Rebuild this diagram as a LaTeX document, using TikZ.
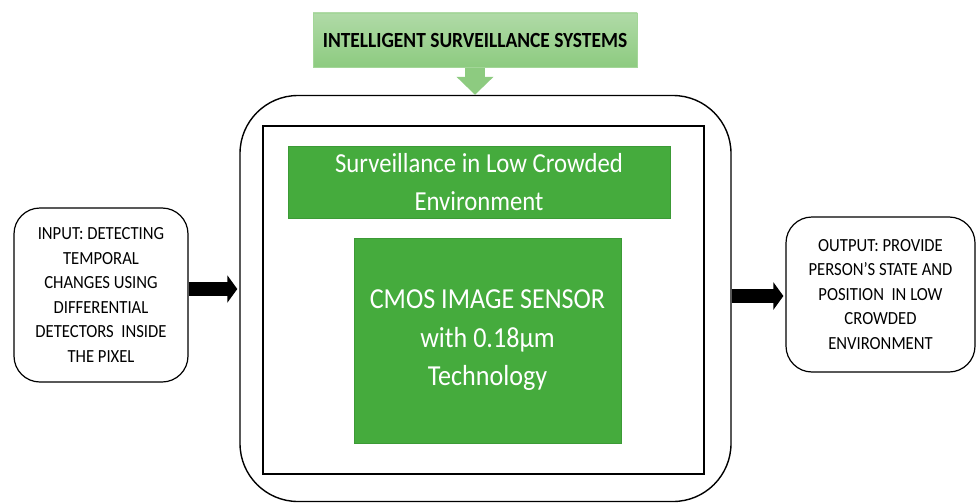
\documentclass[tikz,border=0pt]{standalone}
\usepackage{fontspec}
\setmainfont[FakeStretch=0.9]{Carlito}
\usetikzlibrary{arrows.meta}
\definecolor{titletop}{HTML}{B0DAA7}
\definecolor{titlebot}{HTML}{8DCB80}
\definecolor{titleedge}{HTML}{A3D698}
\definecolor{blockfill}{HTML}{45AB3D}
\definecolor{blockedge}{HTML}{3C9A36}
\tikzset{
  frame/.style={draw=black, line width=1.4pt, fill=white, rounded corners=58pt},
  panel/.style={draw=black, line width=1.4pt},
  greenblock/.style={draw=blockedge, line width=0.6pt, fill=blockfill, text=white, align=center},
  sidebox/.style={draw=black, line width=1.2pt, fill=white, rounded corners=26pt,
    align=center, font=\fontsize{18.5}{24.5}\selectfont},
  fatarrow/.style={line width=14pt, -{Triangle[length=10pt,width=27pt]}},
  titlebox/.style={draw=titleedge, line width=0.8pt, top color=titletop, bottom color=titlebot,
    font=\bfseries\fontsize{21.6}{26}\selectfont}
}
\begin{document}
\begin{tikzpicture}[x=1pt,y=-1pt]
\useasboundingbox (0,0) rectangle (976,503);

% outer frame and inner panel
\node[frame, minimum width=491pt, minimum height=406pt] (frame) at (485.5,298.5) {};
\node[panel, minimum width=441pt, minimum height=348pt] (panel) at (483.5,300) {};

% green blocks
\node[greenblock, font=\fontsize{27.5}{38}\selectfont, minimum width=382pt, minimum height=72pt]
  (env) at (479,182) {Surveillance in Low Crowded\\Environment};
\node[greenblock, font=\fontsize{29}{38.5}\selectfont, minimum width=267pt, minimum height=205pt]
  (cmos) at (487.5,340.5) {CMOS IMAGE SENSOR\\with 0.18µm\\Technology};

% title with its down arrow
\node[titlebox, minimum width=324pt, minimum height=54pt] (title) at (475,40) {};
\draw[titlebot, line width=20pt, -{Triangle[length=18pt,width=36pt]}]
  (title.south) -- (title.south |- frame.north);
\node[titlebox, minimum width=324pt, minimum height=54pt] (title) at (475,40)
  {INTELLIGENT SURVEILLANCE SYSTEMS};

% input and output
\node[sidebox, minimum width=174pt, minimum height=174pt] (input) at (101,295)
  {INPUT: DETECTING\\TEMPORAL\\CHANGES USING\\DIFFERENTIAL\\DETECTORS\ \ INSIDE\\THE PIXEL};
\node[sidebox, minimum width=189pt, minimum height=155pt] (output) at (880.5,294.5)
  {OUTPUT: PROVIDE\\PERSON’S STATE AND\\POSITION\ \ IN LOW\\CROWDED\\ENVIRONMENT};

\draw[fatarrow, shorten >=2pt] ([yshift=6pt]input.east) -- ([yshift=6pt]input.east -| frame.west);
\draw[fatarrow, shorten >=2pt] ([yshift=2.5pt]frame.east) -- ([yshift=2.5pt]frame.east -| output.west);
\end{tikzpicture}
\end{document}
